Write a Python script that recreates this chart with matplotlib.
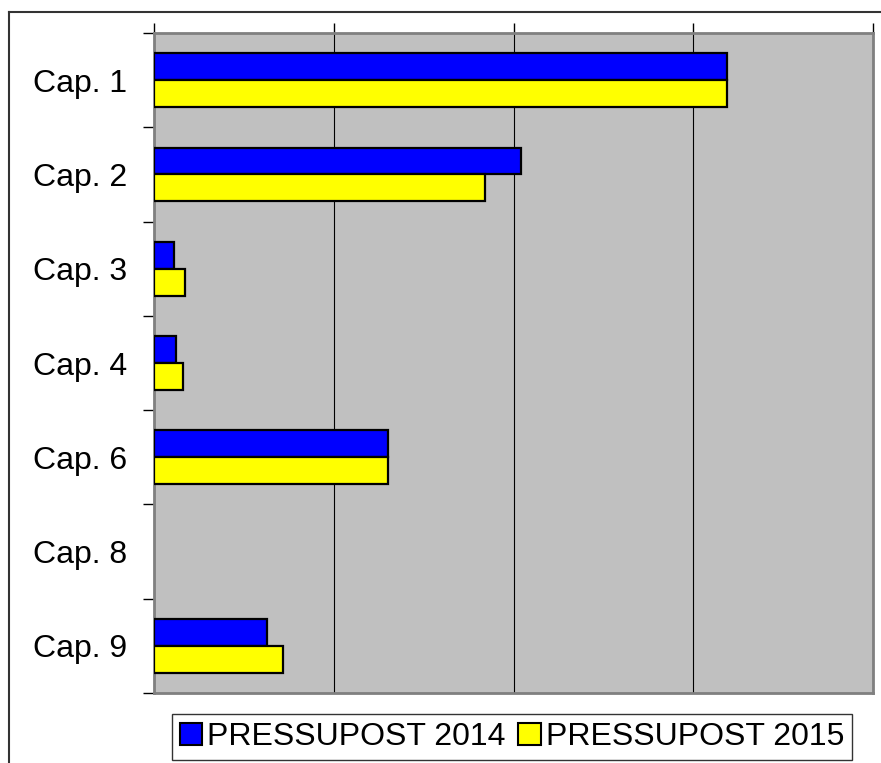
import matplotlib
matplotlib.use("Agg")
import matplotlib.pyplot as plt
from matplotlib.patches import Patch
from matplotlib.lines import Line2D
import numpy as np

plt.rcParams['font.family'] = ['Liberation Sans', 'DejaVu Sans']

categories = ["Cap. 1", "Cap. 2", "Cap. 3", "Cap. 4", "Cap. 6", "Cap. 8", "Cap. 9"]
series_names = ["PRESSUPOST 2014", "PRESSUPOST 2015"]
values_2014 = [3.19, 2.04, 0.11, 0.12, 1.30, 0.0, 0.63]
values_2015 = [3.19, 1.84, 0.17, 0.16, 1.30, 0.0, 0.72]
colors = ["#0000FF", "#FFFF00"]

W, H = 881, 763
fig = plt.figure(figsize=(W / 100, H / 100), dpi=100)

# outer frame (only left and top edges visible in the reference)
fig.add_artist(Line2D([9 / W, 9 / W], [0, 1 - 12 / H], transform=fig.transFigure,
                      color="#333333", linewidth=1.5))
fig.add_artist(Line2D([9 / W, 1], [1 - 12 / H, 1 - 12 / H], transform=fig.transFigure,
                      color="#333333", linewidth=1.5))

ax = fig.add_axes([154 / W, 1 - 693 / H, (873 - 154) / W, (693 - 33) / H])
ax.set_facecolor("#C0C0C0")

n = len(categories)
y = np.arange(n)
bh = 0.285
v14 = np.array(values_2014, dtype=float)
v15 = np.array(values_2015, dtype=float)
m14 = v14 > 0
m15 = v15 > 0
ax.barh(y[m14] - bh / 2, v14[m14], height=bh, color=colors[0], edgecolor="black", linewidth=1.6,
        zorder=3)
ax.barh(y[m15] + bh / 2, v15[m15], height=bh, color=colors[1], edgecolor="black", linewidth=1.6,
        zorder=3)

ax.set_xlim(0, 4)
ax.set_ylim(n - 0.5, -0.5)

ax.xaxis.tick_top()
ax.set_xticks([0, 1, 2, 3, 4])
ax.set_xticklabels([])
ax.tick_params(axis='x', which='major', direction='out', length=7, width=1, color='black')
ax.grid(axis='x', color='black', linewidth=0.8, zorder=1)
ax.set_axisbelow(True)

ax.set_yticks(y)
ax.set_yticklabels(categories, fontsize=23)
ax.tick_params(axis='y', which='major', length=0, pad=19)
ax.set_yticks(np.arange(-0.5, n, 1), minor=True)
ax.tick_params(axis='y', which='minor', direction='out', length=8, width=1, color='black')

for s in ax.spines.values():
    s.set_color("#808080")
    s.set_linewidth(2)

handles = [Patch(facecolor=colors[0], edgecolor='black', linewidth=1.5),
           Patch(facecolor=colors[1], edgecolor='black', linewidth=1.5)]
leg = fig.legend(handles, series_names, loc='center', bbox_to_anchor=(512 / W, 1 - 737 / H),
                 ncol=2, fontsize=23, frameon=True, fancybox=False, handlelength=0.7,
                 handleheight=0.7, handletextpad=0.15, columnspacing=0.4, borderpad=0.25,
                 borderaxespad=0)
leg.get_frame().set_edgecolor('black')
leg.get_frame().set_linewidth(1)

fig.savefig("out.png", dpi=100)
